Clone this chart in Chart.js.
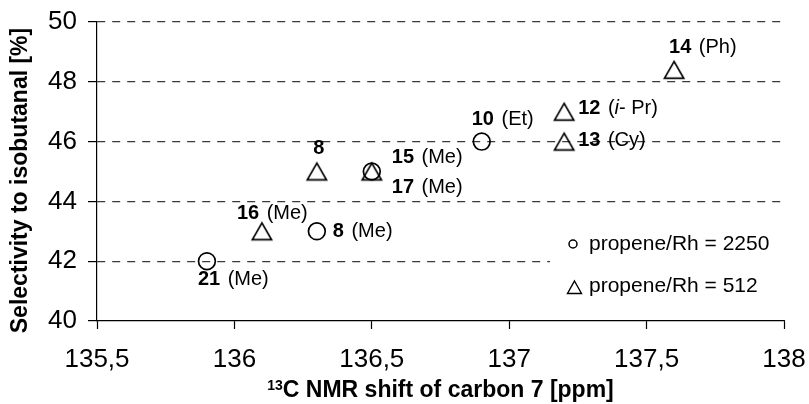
<!DOCTYPE html>
<html><head><meta charset="utf-8">
<script src="https://cdn.jsdelivr.net/npm/chart.js@4"></script>
<style>html,body{margin:0;padding:0;background:#fff;}#wrap{width:809px;height:404px;position:relative;}</style>
</head><body><div id="wrap"><canvas id="c"></canvas></div>
<script>
// ---- data ----
const seriesNames = ['propene/Rh = 2250', 'propene/Rh = 512'];
const circleX = [135.9, 136.3, 136.5, 136.9];
const circleY = [42, 43, 45, 46];
const circleNums = ['21', '8', '15', '10'];
const circleSubs = ['(Me)', '(Me)', '(Me)', '(Et)'];
const triX = [136.1, 136.3, 136.5, 137.2, 137.2, 137.6];
const triY = [43, 45, 45, 47, 46, 48.4];
const triNums = ['16', '8', '17', '12', '13', '14'];
const triSubs = ['(Me)', '', '(Me)', '(*i*- Pr)', '(Cy)', '(Ph)'];
const xTicks = [135.5, 136, 136.5, 137, 137.5, 138];
const yTicks = [40, 42, 44, 46, 48, 50];
const xTitleSup = '13';
const xTitleMain = 'C NMR shift of carbon 7 [ppm]';
const yTitle = 'Selectivity to isobutanal [%]';

// ---- label placement (pixel offsets from each marker) ----
const circleLabelPos = [
  {dx: -9, dy: 18}, {dx: 16, dy: 0}, {dx: 20, dy: -14}, {dx: -10, dy: -22}
];
const triLabelPos = [
  {dx: -25, dy: -18}, {dx: 2, dy: -23, center: true}, {dx: 20, dy: 16},
  {dx: 14, dy: -3}, {dx: 14, dy: -1}, {dx: -5, dy: -22}
];

const FAM = "'Liberation Sans', Arial, sans-serif";

function makeTriangle() {
  const c = document.createElement('canvas');
  c.width = 24; c.height = 22;
  const g = c.getContext('2d');
  g.strokeStyle = '#000'; g.lineWidth = 1.7; g.lineJoin = 'miter';
  g.beginPath(); g.moveTo(12, 2.6); g.lineTo(21.6, 19.4); g.lineTo(2.4, 19.4); g.closePath(); g.stroke();
  return c;
}
const triImg = makeTriangle();

function drawLabel(ctx, x, y, num, sub, center) {
  ctx.save();
  ctx.fillStyle = '#000';
  ctx.textBaseline = 'middle';
  ctx.textAlign = 'left';
  const bold = 'bold 20px ' + FAM, norm = '20px ' + FAM, ital = 'italic 20px ' + FAM;
  ctx.font = bold;
  const wNum = ctx.measureText(num).width;
  if (center) x -= wNum / 2;
  ctx.fillText(num, x, y);
  let cx = x + wNum + 7.5;
  if (sub) {
    const parts = sub.split('*');
    parts.forEach((p, i) => {
      if (!p) return;
      ctx.font = (i % 2 === 1) ? ital : norm;
      ctx.fillText(p, cx, y);
      cx += ctx.measureText(p).width;
    });
  }
  ctx.restore();
}

const decor = {
  id: 'decor',
  afterDatasetsDraw(chart) {
    const ctx = chart.ctx;
    const m0 = chart.getDatasetMeta(0).data, m1 = chart.getDatasetMeta(1).data;
    m0.forEach((el, i) => {
      const p = circleLabelPos[i];
      drawLabel(ctx, el.x + p.dx, el.y + p.dy, circleNums[i], circleSubs[i], p.center);
    });
    m1.forEach((el, i) => {
      const p = triLabelPos[i];
      drawLabel(ctx, el.x + p.dx, el.y + p.dy, triNums[i], triSubs[i], p.center);
    });
  },
  afterDraw(chart) {
    const ctx = chart.ctx, a = chart.chartArea;
    ctx.save();
    // legend box
    ctx.fillStyle = '#fff';
    ctx.fillRect(550, 216, a.right - 551, 96);
    ctx.strokeStyle = '#000'; ctx.lineWidth = 1.5;
    ctx.beginPath(); ctx.arc(573, 244, 4, 0, Math.PI * 2); ctx.stroke();
    ctx.lineWidth = 1.4;
    ctx.beginPath(); ctx.moveTo(574.5, 281); ctx.lineTo(581.5, 293.5); ctx.lineTo(567.5, 293.5); ctx.closePath(); ctx.stroke();
    ctx.fillStyle = '#000';
    ctx.font = '21px ' + FAM; ctx.textBaseline = 'alphabetic'; ctx.textAlign = 'left';
    ctx.fillText(seriesNames[0], 589, 250);
    ctx.fillText(seriesNames[1], 589, 292);
    // y title
    ctx.save();
    ctx.translate(21, (a.top + a.bottom) / 2 + 9);
    ctx.rotate(-Math.PI / 2);
    ctx.font = 'bold 23px ' + FAM; ctx.textAlign = 'center'; ctx.textBaseline = 'middle';
    ctx.fillText(yTitle, 0, 0);
    ctx.restore();
    // x title with superscript
    ctx.font = 'bold 14px ' + FAM;
    const wSup = ctx.measureText(xTitleSup).width;
    ctx.font = 'bold 23px ' + FAM;
    const wMain = ctx.measureText(xTitleMain).width;
    const x0 = (a.left + a.right) / 2 - (wSup + wMain) / 2;
    const base = 397;
    ctx.textBaseline = 'alphabetic';
    ctx.font = 'bold 14px ' + FAM;
    ctx.fillText(xTitleSup, x0, base - 7);
    ctx.font = 'bold 23px ' + FAM;
    ctx.fillText(xTitleMain, x0 + wSup, base);
    ctx.restore();
  }
};

new Chart(document.getElementById('c'), {
  type: 'scatter',
  data: {
    datasets: [
      {
        label: seriesNames[0],
        data: circleX.map((x, i) => ({x: x, y: circleY[i]})),
        pointStyle: 'circle', pointRadius: 8.4, pointHoverRadius: 8.4,
        borderColor: '#000', backgroundColor: 'rgba(0,0,0,0)', pointBorderWidth: 1.7
      },
      {
        label: seriesNames[1],
        data: triX.map((x, i) => ({x: x, y: triY[i]})),
        pointStyle: triImg, pointRadius: 10,
        borderColor: '#000', backgroundColor: 'rgba(0,0,0,0)'
      }
    ]
  },
  options: {
    responsive: true, maintainAspectRatio: false, animation: false,
    layout: {padding: 0},
    plugins: {legend: {display: false}, tooltip: {enabled: false}},
    scales: {
      x: {
        type: 'linear', min: 135.5, max: 138,
        afterBuildTicks: s => { s.ticks = xTicks.map(v => ({value: v})); },
        afterFit: s => { s.height = 83; s.paddingLeft = 0; s.paddingRight = 25; },
        ticks: {color: '#000', font: {family: FAM, size: 26}, padding: 15,
          callback: v => String(v).replace('.', ',')},
        grid: {drawOnChartArea: false, tickLength: 8, tickColor: '#000', tickWidth: 1.2},
        border: {display: true, color: '#000', width: 1.2}
      },
      y: {
        type: 'linear', min: 40, max: 50,
        afterBuildTicks: s => { s.ticks = yTicks.map(v => ({value: v})); },
        afterFit: s => { s.width = 97; s.paddingTop = 22; s.paddingBottom = 0; },
        ticks: {color: '#000', font: {family: FAM, size: 26}, padding: 11},
        grid: {
          color: c => (c.tick && c.tick.value === 40) ? 'rgba(0,0,0,0)' : '#3a3a3a',
          lineWidth: 1.2, tickLength: 9, tickColor: '#000', tickWidth: 1.2
        },
        border: {display: true, color: '#000', width: 1.2, dash: [8, 7]}
      }
    }
  },
  plugins: [decor]
});
</script>
</body></html>
